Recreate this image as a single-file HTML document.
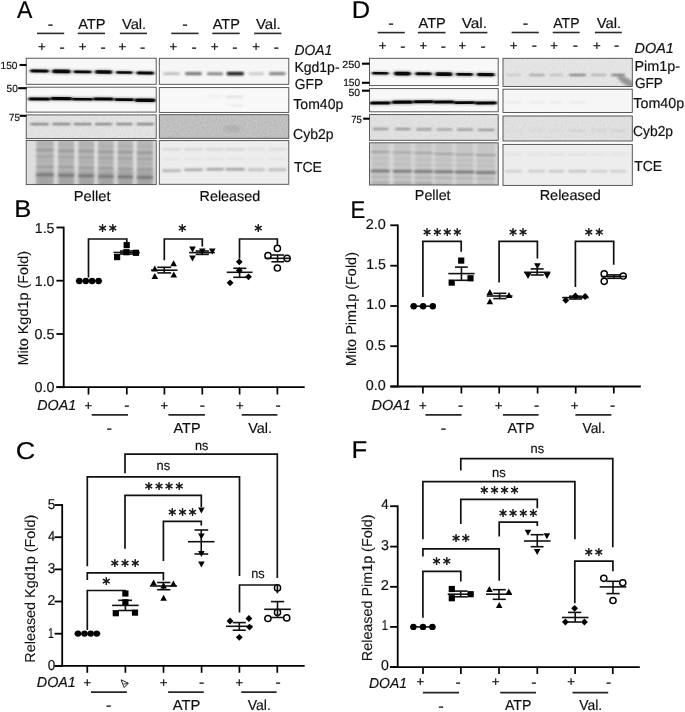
<!DOCTYPE html>
<html><head><meta charset="utf-8"><title>Figure</title>
<style>html,body{margin:0;padding:0;background:#fff}svg{display:block}</style></head><body>
<svg width="685" height="712" viewBox="0 0 685 712" text-rendering="geometricPrecision" font-family="'Liberation Sans', Arial, sans-serif">
<defs>
<filter id="b1" x="-20%" y="-100%" width="140%" height="300%"><feGaussianBlur stdDeviation="0.9 0.7"/></filter>
<filter id="b2" x="-20%" y="-100%" width="140%" height="300%"><feGaussianBlur stdDeviation="1.3 0.9"/></filter>
<filter id="b3" x="-30%" y="-30%" width="160%" height="160%"><feGaussianBlur stdDeviation="2.2 1.2"/></filter>
<filter id="b5" x="-20%" y="-150%" width="140%" height="400%"><feGaussianBlur stdDeviation="1.6 1.15"/></filter>
<filter id="b6" x="-20%" y="-150%" width="140%" height="400%"><feGaussianBlur stdDeviation="1.3 0.85"/></filter>
<filter id="b4" x="-30%" y="-30%" width="160%" height="160%"><feGaussianBlur stdDeviation="5"/></filter>
<filter id="nz" x="0" y="0" width="100%" height="100%"><feTurbulence type="fractalNoise" baseFrequency="0.55" numOctaves="2" seed="3"/><feColorMatrix values="0 0 0 0 0  0 0 0 0 0  0 0 0 0 0  0.9 0 0 0 -0.25"/></filter>
</defs>
<rect width="685" height="712" fill="#fff"/>
<text transform="translate(16.88,18.40) scale(0.944,1)" font-size="24.4" fill="#000" stroke="#000" stroke-width="0.18">A</text>
<text transform="translate(351.77,18.30) scale(1.040,1)" font-size="24.4" fill="#000" stroke="#000" stroke-width="0.18">D</text>
<text transform="translate(14.25,217.30) scale(1.049,1)" font-size="24.4" fill="#000" stroke="#000" stroke-width="0.18">B</text>
<text transform="translate(350.52,217.80) scale(0.910,1)" font-size="24.4" fill="#000" stroke="#000" stroke-width="0.18">E</text>
<text transform="translate(15.65,459.10) scale(1.106,1)" font-size="24.4" fill="#000" stroke="#000" stroke-width="0.18">C</text>
<text transform="translate(351.44,457.90) scale(1.054,1)" font-size="24.4" fill="#000" stroke="#000" stroke-width="0.18">F</text>
<clipPath id="c1"><rect x="26.2" y="58.2" width="130.00" height="26.10"/></clipPath>
<g clip-path="url(#c1)">
<rect x="26.2" y="58.2" width="130.00" height="26.10" fill="#f8f8f8"/>
<rect x="29.70" y="68.75" width="19.60" height="4.50" rx="2" fill="#000" opacity="0.3" filter="url(#b3)"/>
<rect x="30.20" y="69.55" width="18.60" height="2.90" rx="1.45" fill="#000" opacity="0.95" filter="url(#b1)" transform="rotate(1.0 39.50 71.00)"/>
<rect x="51.70" y="68.65" width="19.40" height="5.50" rx="2" fill="#000" opacity="0.3" filter="url(#b3)"/>
<rect x="52.20" y="69.45" width="18.40" height="3.90" rx="1.95" fill="#000" opacity="0.95" filter="url(#b1)" transform="rotate(1.0 61.40 71.40)"/>
<rect x="73.10" y="69.65" width="19.00" height="4.30" rx="2" fill="#000" opacity="0.3" filter="url(#b3)"/>
<rect x="73.60" y="70.45" width="18.00" height="2.70" rx="1.35" fill="#000" opacity="0.95" filter="url(#b1)" transform="rotate(1.0 82.60 71.80)"/>
<rect x="94.50" y="69.45" width="18.20" height="5.10" rx="2" fill="#000" opacity="0.3" filter="url(#b3)"/>
<rect x="95.00" y="70.25" width="17.20" height="3.50" rx="1.75" fill="#000" opacity="0.95" filter="url(#b1)" transform="rotate(1.0 103.60 72.00)"/>
<rect x="115.50" y="70.55" width="17.60" height="3.90" rx="2" fill="#000" opacity="0.3" filter="url(#b3)"/>
<rect x="116.00" y="71.35" width="16.60" height="2.30" rx="1.15" fill="#000" opacity="0.95" filter="url(#b1)" transform="rotate(1.0 124.30 72.50)"/>
<rect x="136.00" y="70.65" width="18.50" height="4.70" rx="2" fill="#000" opacity="0.3" filter="url(#b3)"/>
<rect x="136.50" y="71.45" width="17.50" height="3.10" rx="1.55" fill="#000" opacity="0.95" filter="url(#b1)" transform="rotate(1.0 145.25 73.00)"/>
</g>
<rect x="26.2" y="58.2" width="130.00" height="26.10" fill="none" stroke="#484848" stroke-width="0.9"/>
<clipPath id="c2"><rect x="26.2" y="87.2" width="130.00" height="24.90"/></clipPath>
<g clip-path="url(#c2)">
<rect x="26.2" y="87.2" width="130.00" height="24.90" fill="#f8f8f8"/>
<rect x="27.90" y="96.70" width="22.90" height="4.60" rx="2" fill="#000" opacity="0.3" filter="url(#b3)"/>
<rect x="28.40" y="97.50" width="21.90" height="3.00" rx="1.50" fill="#000" opacity="0.97" filter="url(#b1)" transform="rotate(0.6 39.35 99.00)"/>
<rect x="49.90" y="96.15" width="22.70" height="4.90" rx="2" fill="#000" opacity="0.3" filter="url(#b3)"/>
<rect x="50.40" y="96.95" width="21.70" height="3.30" rx="1.65" fill="#000" opacity="0.97" filter="url(#b1)" transform="rotate(0.6 61.25 98.60)"/>
<rect x="71.30" y="97.10" width="22.30" height="4.20" rx="2" fill="#000" opacity="0.3" filter="url(#b3)"/>
<rect x="71.80" y="97.90" width="21.30" height="2.60" rx="1.30" fill="#000" opacity="0.97" filter="url(#b1)" transform="rotate(0.6 82.45 99.20)"/>
<rect x="92.70" y="96.70" width="21.50" height="4.60" rx="2" fill="#000" opacity="0.3" filter="url(#b3)"/>
<rect x="93.20" y="97.50" width="20.50" height="3.00" rx="1.50" fill="#000" opacity="0.97" filter="url(#b1)" transform="rotate(0.6 103.45 99.00)"/>
<rect x="113.70" y="97.45" width="20.90" height="4.30" rx="2" fill="#000" opacity="0.3" filter="url(#b3)"/>
<rect x="114.20" y="98.25" width="19.90" height="2.70" rx="1.35" fill="#000" opacity="0.97" filter="url(#b1)" transform="rotate(0.6 124.15 99.60)"/>
<rect x="134.20" y="97.65" width="21.80" height="5.10" rx="2" fill="#000" opacity="0.3" filter="url(#b3)"/>
<rect x="134.70" y="98.45" width="20.80" height="3.50" rx="1.75" fill="#000" opacity="0.97" filter="url(#b1)" transform="rotate(0.6 145.10 100.20)"/>
</g>
<rect x="26.2" y="87.2" width="130.00" height="24.90" fill="none" stroke="#484848" stroke-width="0.9"/>
<clipPath id="c3"><rect x="26.2" y="114.9" width="130.00" height="23.70"/></clipPath>
<g clip-path="url(#c3)">
<rect x="26.2" y="114.9" width="130.00" height="23.70" fill="#e6e6e6"/>
<rect x="30.20" y="123.15" width="18.60" height="1.90" rx="0.95" fill="#4a4a4a" opacity="0.8" filter="url(#b2)"/>
<rect x="52.20" y="123.15" width="18.40" height="1.90" rx="0.95" fill="#4a4a4a" opacity="0.8" filter="url(#b2)"/>
<rect x="73.60" y="123.15" width="18.00" height="1.90" rx="0.95" fill="#4a4a4a" opacity="0.8" filter="url(#b2)"/>
<rect x="95.00" y="123.15" width="17.20" height="1.90" rx="0.95" fill="#4a4a4a" opacity="0.8" filter="url(#b2)"/>
<rect x="116.00" y="123.15" width="16.60" height="1.90" rx="0.95" fill="#4a4a4a" opacity="0.8" filter="url(#b2)"/>
<rect x="136.50" y="123.15" width="17.50" height="1.90" rx="0.95" fill="#4a4a4a" opacity="0.8" filter="url(#b2)"/>
<rect x="26.2" y="114.9" width="130.00" height="23.70" filter="url(#nz)" opacity="0.1"/>
</g>
<rect x="26.2" y="114.9" width="130.00" height="23.70" fill="none" stroke="#484848" stroke-width="0.9"/>
<clipPath id="c4"><rect x="26.2" y="140.5" width="130.00" height="44.10"/></clipPath>
<g clip-path="url(#c4)">
<rect x="26.2" y="140.5" width="130.00" height="44.10" fill="#dedede"/>
<rect x="36.4" y="138" width="17.30" height="50" fill="#a8a8a8" opacity="0.74" filter="url(#b2)"/>
<rect x="36.4" y="171" width="17.30" height="17" fill="#777" opacity="0.28" filter="url(#b3)"/>
<rect x="36.10" y="143.55" width="17.90" height="1.30" rx="0.65" fill="#3a3a3a" opacity="0.1" filter="url(#b6)"/>
<rect x="36.10" y="149.50" width="17.90" height="1.60" rx="0.80" fill="#3a3a3a" opacity="0.38" filter="url(#b6)"/>
<rect x="36.10" y="155.75" width="17.90" height="1.50" rx="0.75" fill="#3a3a3a" opacity="0.25" filter="url(#b6)"/>
<rect x="36.10" y="160.15" width="17.90" height="1.30" rx="0.65" fill="#3a3a3a" opacity="0.1" filter="url(#b6)"/>
<rect x="36.10" y="165.90" width="17.90" height="1.60" rx="0.80" fill="#3a3a3a" opacity="0.33" filter="url(#b6)"/>
<rect x="36.10" y="173.80" width="17.90" height="2.20" rx="1.10" fill="#3a3a3a" opacity="0.52" filter="url(#b6)"/>
<rect x="58.2" y="138" width="16.00" height="50" fill="#a8a8a8" opacity="0.74" filter="url(#b2)"/>
<rect x="58.2" y="171" width="16.00" height="17" fill="#777" opacity="0.28" filter="url(#b3)"/>
<rect x="57.90" y="144.05" width="16.60" height="1.30" rx="0.65" fill="#3a3a3a" opacity="0.1" filter="url(#b6)"/>
<rect x="57.90" y="150.00" width="16.60" height="1.60" rx="0.80" fill="#3a3a3a" opacity="0.38" filter="url(#b6)"/>
<rect x="57.90" y="156.25" width="16.60" height="1.50" rx="0.75" fill="#3a3a3a" opacity="0.25" filter="url(#b6)"/>
<rect x="57.90" y="160.65" width="16.60" height="1.30" rx="0.65" fill="#3a3a3a" opacity="0.1" filter="url(#b6)"/>
<rect x="57.90" y="166.40" width="16.60" height="1.60" rx="0.80" fill="#3a3a3a" opacity="0.33" filter="url(#b6)"/>
<rect x="57.90" y="174.30" width="16.60" height="2.20" rx="1.10" fill="#3a3a3a" opacity="0.52" filter="url(#b6)"/>
<rect x="78.3" y="138" width="15.70" height="50" fill="#a8a8a8" opacity="0.74" filter="url(#b2)"/>
<rect x="78.3" y="171" width="15.70" height="17" fill="#777" opacity="0.28" filter="url(#b3)"/>
<rect x="78.00" y="144.55" width="16.30" height="1.30" rx="0.65" fill="#3a3a3a" opacity="0.1" filter="url(#b6)"/>
<rect x="78.00" y="150.50" width="16.30" height="1.60" rx="0.80" fill="#3a3a3a" opacity="0.38" filter="url(#b6)"/>
<rect x="78.00" y="156.75" width="16.30" height="1.50" rx="0.75" fill="#3a3a3a" opacity="0.25" filter="url(#b6)"/>
<rect x="78.00" y="161.15" width="16.30" height="1.30" rx="0.65" fill="#3a3a3a" opacity="0.1" filter="url(#b6)"/>
<rect x="78.00" y="166.90" width="16.30" height="1.60" rx="0.80" fill="#3a3a3a" opacity="0.33" filter="url(#b6)"/>
<rect x="78.00" y="174.80" width="16.30" height="2.20" rx="1.10" fill="#3a3a3a" opacity="0.52" filter="url(#b6)"/>
<rect x="98.1" y="138" width="15.50" height="50" fill="#a8a8a8" opacity="0.74" filter="url(#b2)"/>
<rect x="98.1" y="171" width="15.50" height="17" fill="#777" opacity="0.28" filter="url(#b3)"/>
<rect x="97.80" y="145.05" width="16.10" height="1.30" rx="0.65" fill="#3a3a3a" opacity="0.1" filter="url(#b6)"/>
<rect x="97.80" y="151.00" width="16.10" height="1.60" rx="0.80" fill="#3a3a3a" opacity="0.38" filter="url(#b6)"/>
<rect x="97.80" y="157.25" width="16.10" height="1.50" rx="0.75" fill="#3a3a3a" opacity="0.25" filter="url(#b6)"/>
<rect x="97.80" y="161.65" width="16.10" height="1.30" rx="0.65" fill="#3a3a3a" opacity="0.1" filter="url(#b6)"/>
<rect x="97.80" y="167.40" width="16.10" height="1.60" rx="0.80" fill="#3a3a3a" opacity="0.33" filter="url(#b6)"/>
<rect x="97.80" y="175.30" width="16.10" height="2.20" rx="1.10" fill="#3a3a3a" opacity="0.52" filter="url(#b6)"/>
<rect x="117.7" y="138" width="15.20" height="50" fill="#a8a8a8" opacity="0.74" filter="url(#b2)"/>
<rect x="117.7" y="171" width="15.20" height="17" fill="#777" opacity="0.28" filter="url(#b3)"/>
<rect x="117.40" y="145.55" width="15.80" height="1.30" rx="0.65" fill="#3a3a3a" opacity="0.1" filter="url(#b6)"/>
<rect x="117.40" y="151.50" width="15.80" height="1.60" rx="0.80" fill="#3a3a3a" opacity="0.38" filter="url(#b6)"/>
<rect x="117.40" y="157.75" width="15.80" height="1.50" rx="0.75" fill="#3a3a3a" opacity="0.25" filter="url(#b6)"/>
<rect x="117.40" y="162.15" width="15.80" height="1.30" rx="0.65" fill="#3a3a3a" opacity="0.1" filter="url(#b6)"/>
<rect x="117.40" y="167.90" width="15.80" height="1.60" rx="0.80" fill="#3a3a3a" opacity="0.33" filter="url(#b6)"/>
<rect x="117.40" y="175.80" width="15.80" height="2.20" rx="1.10" fill="#3a3a3a" opacity="0.52" filter="url(#b6)"/>
<rect x="137" y="138" width="15.90" height="50" fill="#a8a8a8" opacity="0.74" filter="url(#b2)"/>
<rect x="137" y="171" width="15.90" height="17" fill="#777" opacity="0.28" filter="url(#b3)"/>
<rect x="136.70" y="146.05" width="16.50" height="1.30" rx="0.65" fill="#3a3a3a" opacity="0.1" filter="url(#b6)"/>
<rect x="136.70" y="152.00" width="16.50" height="1.60" rx="0.80" fill="#3a3a3a" opacity="0.38" filter="url(#b6)"/>
<rect x="136.70" y="158.25" width="16.50" height="1.50" rx="0.75" fill="#3a3a3a" opacity="0.25" filter="url(#b6)"/>
<rect x="136.70" y="162.65" width="16.50" height="1.30" rx="0.65" fill="#3a3a3a" opacity="0.1" filter="url(#b6)"/>
<rect x="136.70" y="168.40" width="16.50" height="1.60" rx="0.80" fill="#3a3a3a" opacity="0.33" filter="url(#b6)"/>
<rect x="136.70" y="176.30" width="16.50" height="2.20" rx="1.10" fill="#3a3a3a" opacity="0.52" filter="url(#b6)"/>
</g>
<rect x="26.2" y="140.5" width="130.00" height="44.10" fill="none" stroke="#484848" stroke-width="0.9"/>
<clipPath id="c5"><rect x="159.3" y="58.3" width="129.50" height="26.00"/></clipPath>
<g clip-path="url(#c5)">
<rect x="159.3" y="58.3" width="129.50" height="26.00" fill="#f6f6f6"/>
<rect x="163.00" y="72.55" width="17.00" height="2.30" rx="1.15" fill="#111" opacity="0.3" filter="url(#b2)"/>
<rect x="185.00" y="72.30" width="17.00" height="2.80" rx="1.40" fill="#111" opacity="0.62" filter="url(#b2)"/>
<rect x="207.00" y="72.40" width="16.00" height="2.60" rx="1.30" fill="#111" opacity="0.58" filter="url(#b2)"/>
<rect x="226.60" y="72.10" width="17.40" height="3.20" rx="1.60" fill="#111" opacity="1.0" filter="url(#b2)"/>
<rect x="248.70" y="72.60" width="15.30" height="2.20" rx="1.10" fill="#111" opacity="0.24" filter="url(#b2)"/>
<rect x="269.00" y="72.30" width="16.60" height="2.80" rx="1.40" fill="#111" opacity="0.55" filter="url(#b2)"/>
</g>
<rect x="159.3" y="58.3" width="129.50" height="26.00" fill="none" stroke="#484848" stroke-width="0.9"/>
<clipPath id="c6"><rect x="159.3" y="87.6" width="129.50" height="24.80"/></clipPath>
<g clip-path="url(#c6)">
<rect x="159.3" y="87.6" width="129.50" height="24.80" fill="#f8f8f8"/>
<rect x="226.00" y="96.20" width="17.00" height="1.60" rx="0.80" fill="#888" opacity="0.3" filter="url(#b2)"/>
<rect x="231.00" y="104.75" width="12.00" height="1.50" rx="0.75" fill="#888" opacity="0.18" filter="url(#b2)"/>
<rect x="207.00" y="95.85" width="15.00" height="1.30" rx="0.65" fill="#999" opacity="0.15" filter="url(#b2)"/>
</g>
<rect x="159.3" y="87.6" width="129.50" height="24.80" fill="none" stroke="#484848" stroke-width="0.9"/>
<clipPath id="c7"><rect x="159.3" y="114.7" width="129.50" height="23.60"/></clipPath>
<g clip-path="url(#c7)">
<rect x="159.3" y="114.7" width="129.50" height="23.60" fill="#c6c6c6"/>
<ellipse cx="232" cy="129" rx="9" ry="4" fill="#999" opacity="0.3" filter="url(#b3)"/>
<rect x="159.3" y="114.7" width="129.50" height="23.60" filter="url(#nz)" opacity="0.16"/>
</g>
<rect x="159.3" y="114.7" width="129.50" height="23.60" fill="none" stroke="#484848" stroke-width="0.9"/>
<clipPath id="c8"><rect x="159.3" y="140.6" width="129.50" height="43.70"/></clipPath>
<g clip-path="url(#c8)">
<rect x="159.3" y="140.6" width="129.50" height="43.70" fill="#ededed"/>
<rect x="162.00" y="148.40" width="19.00" height="1.80" rx="0.90" fill="#888" opacity="0.27999999999999997" filter="url(#b2)"/>
<rect x="162.00" y="169.40" width="19.00" height="2.40" rx="1.20" fill="#666" opacity="0.48" filter="url(#b2)"/>
<rect x="162.00" y="158.20" width="19.00" height="1.60" rx="0.80" fill="#999" opacity="0.12" filter="url(#b2)"/>
<rect x="184.00" y="148.40" width="19.00" height="1.80" rx="0.90" fill="#888" opacity="0.315" filter="url(#b2)"/>
<rect x="184.00" y="168.60" width="19.00" height="2.40" rx="1.20" fill="#666" opacity="0.54" filter="url(#b2)"/>
<rect x="184.00" y="158.20" width="19.00" height="1.60" rx="0.80" fill="#999" opacity="0.135" filter="url(#b2)"/>
<rect x="206.00" y="148.40" width="18.00" height="1.80" rx="0.90" fill="#888" opacity="0.33249999999999996" filter="url(#b2)"/>
<rect x="206.00" y="168.10" width="18.00" height="2.40" rx="1.20" fill="#666" opacity="0.57" filter="url(#b2)"/>
<rect x="206.00" y="158.20" width="18.00" height="1.60" rx="0.80" fill="#999" opacity="0.1425" filter="url(#b2)"/>
<rect x="225.60" y="148.40" width="19.40" height="1.80" rx="0.90" fill="#888" opacity="0.35" filter="url(#b2)"/>
<rect x="225.60" y="168.10" width="19.40" height="2.40" rx="1.20" fill="#666" opacity="0.6" filter="url(#b2)"/>
<rect x="225.60" y="158.20" width="19.40" height="1.60" rx="0.80" fill="#999" opacity="0.15" filter="url(#b2)"/>
<rect x="247.70" y="148.40" width="17.30" height="1.80" rx="0.90" fill="#888" opacity="0.21" filter="url(#b2)"/>
<rect x="247.70" y="168.60" width="17.30" height="2.40" rx="1.20" fill="#666" opacity="0.36" filter="url(#b2)"/>
<rect x="247.70" y="158.20" width="17.30" height="1.60" rx="0.80" fill="#999" opacity="0.09" filter="url(#b2)"/>
<rect x="268.00" y="148.40" width="18.60" height="1.80" rx="0.90" fill="#888" opacity="0.22749999999999998" filter="url(#b2)"/>
<rect x="268.00" y="168.60" width="18.60" height="2.40" rx="1.20" fill="#666" opacity="0.39" filter="url(#b2)"/>
<rect x="268.00" y="158.20" width="18.60" height="1.60" rx="0.80" fill="#999" opacity="0.0975" filter="url(#b2)"/>
</g>
<rect x="159.3" y="140.6" width="129.50" height="43.70" fill="none" stroke="#484848" stroke-width="0.9"/>
<clipPath id="c9"><rect x="369.5" y="58.3" width="128.70" height="27.30"/></clipPath>
<g clip-path="url(#c9)">
<rect x="369.5" y="58.3" width="128.70" height="27.30" fill="#f8f8f8"/>
<rect x="371.50" y="71.20" width="17.50" height="4.20" rx="2" fill="#000" opacity="0.3" filter="url(#b3)"/>
<rect x="372.00" y="72.00" width="16.50" height="2.60" rx="1.30" fill="#000" opacity="0.95" filter="url(#b1)" transform="rotate(0.8 380.25 73.30)"/>
<rect x="393.50" y="70.85" width="17.80" height="5.50" rx="2" fill="#000" opacity="0.3" filter="url(#b3)"/>
<rect x="394.00" y="71.65" width="16.80" height="3.90" rx="1.95" fill="#000" opacity="0.95" filter="url(#b1)" transform="rotate(0.8 402.40 73.60)"/>
<rect x="414.80" y="71.45" width="17.40" height="4.70" rx="2" fill="#000" opacity="0.3" filter="url(#b3)"/>
<rect x="415.30" y="72.25" width="16.40" height="3.10" rx="1.55" fill="#000" opacity="0.95" filter="url(#b1)" transform="rotate(0.8 423.50 73.80)"/>
<rect x="434.90" y="71.55" width="17.90" height="5.30" rx="2" fill="#000" opacity="0.3" filter="url(#b3)"/>
<rect x="435.40" y="72.35" width="16.90" height="3.70" rx="1.85" fill="#000" opacity="0.95" filter="url(#b1)" transform="rotate(0.8 443.85 74.20)"/>
<rect x="455.50" y="72.15" width="18.00" height="4.50" rx="2" fill="#000" opacity="0.3" filter="url(#b3)"/>
<rect x="456.00" y="72.95" width="17.00" height="2.90" rx="1.45" fill="#000" opacity="0.95" filter="url(#b1)" transform="rotate(0.8 464.50 74.40)"/>
<rect x="476.40" y="72.15" width="18.70" height="4.90" rx="2" fill="#000" opacity="0.3" filter="url(#b3)"/>
<rect x="476.90" y="72.95" width="17.70" height="3.30" rx="1.65" fill="#000" opacity="0.95" filter="url(#b1)" transform="rotate(0.8 485.75 74.60)"/>
</g>
<rect x="369.5" y="58.3" width="128.70" height="27.30" fill="none" stroke="#484848" stroke-width="0.9"/>
<clipPath id="c10"><rect x="369.5" y="88.6" width="128.70" height="23.20"/></clipPath>
<g clip-path="url(#c10)">
<rect x="369.5" y="88.6" width="128.70" height="23.20" fill="#f8f8f8"/>
<rect x="369.30" y="100.65" width="21.90" height="4.70" rx="2" fill="#000" opacity="0.3" filter="url(#b3)"/>
<rect x="369.80" y="101.45" width="20.90" height="3.10" rx="1.55" fill="#000" opacity="0.97" filter="url(#b1)" transform="rotate(-0.5 380.25 103.00)"/>
<rect x="391.30" y="99.75" width="22.20" height="4.90" rx="2" fill="#000" opacity="0.3" filter="url(#b3)"/>
<rect x="391.80" y="100.55" width="21.20" height="3.30" rx="1.65" fill="#000" opacity="0.97" filter="url(#b1)" transform="rotate(-0.5 402.40 102.20)"/>
<rect x="412.60" y="99.55" width="21.80" height="4.50" rx="2" fill="#000" opacity="0.3" filter="url(#b3)"/>
<rect x="413.10" y="100.35" width="20.80" height="2.90" rx="1.45" fill="#000" opacity="0.97" filter="url(#b1)" transform="rotate(-0.5 423.50 101.80)"/>
<rect x="432.70" y="99.65" width="22.30" height="4.70" rx="2" fill="#000" opacity="0.3" filter="url(#b3)"/>
<rect x="433.20" y="100.45" width="21.30" height="3.10" rx="1.55" fill="#000" opacity="0.97" filter="url(#b1)" transform="rotate(-0.5 443.85 102.00)"/>
<rect x="453.30" y="100.45" width="22.40" height="4.30" rx="2" fill="#000" opacity="0.3" filter="url(#b3)"/>
<rect x="453.80" y="101.25" width="21.40" height="2.70" rx="1.35" fill="#000" opacity="0.97" filter="url(#b1)" transform="rotate(-0.5 464.50 102.60)"/>
<rect x="474.20" y="100.75" width="23.10" height="4.50" rx="2" fill="#000" opacity="0.3" filter="url(#b3)"/>
<rect x="474.70" y="101.55" width="22.10" height="2.90" rx="1.45" fill="#000" opacity="0.97" filter="url(#b1)" transform="rotate(-0.5 485.75 103.00)"/>
</g>
<rect x="369.5" y="88.6" width="128.70" height="23.20" fill="none" stroke="#484848" stroke-width="0.9"/>
<clipPath id="c11"><rect x="369.5" y="114.6" width="128.70" height="25.70"/></clipPath>
<g clip-path="url(#c11)">
<rect x="369.5" y="114.6" width="128.70" height="25.70" fill="#e3e3e3"/>
<rect x="373.00" y="128.05" width="15.50" height="1.70" rx="0.85" fill="#444" opacity="0.6" filter="url(#b2)"/>
<rect x="395.00" y="128.25" width="15.80" height="1.70" rx="0.85" fill="#444" opacity="0.6" filter="url(#b2)"/>
<rect x="416.30" y="128.45" width="15.40" height="1.70" rx="0.85" fill="#444" opacity="0.6" filter="url(#b2)"/>
<rect x="436.40" y="128.65" width="15.90" height="1.70" rx="0.85" fill="#444" opacity="0.6" filter="url(#b2)"/>
<rect x="457.00" y="128.85" width="16.00" height="1.70" rx="0.85" fill="#444" opacity="0.6" filter="url(#b2)"/>
<rect x="477.90" y="129.05" width="16.70" height="1.70" rx="0.85" fill="#444" opacity="0.6" filter="url(#b2)"/>
<rect x="369.5" y="114.6" width="128.70" height="25.70" filter="url(#nz)" opacity="0.08"/>
</g>
<rect x="369.5" y="114.6" width="128.70" height="25.70" fill="none" stroke="#484848" stroke-width="0.9"/>
<clipPath id="c12"><rect x="369.5" y="142.8" width="128.70" height="42.20"/></clipPath>
<g clip-path="url(#c12)">
<rect x="369.5" y="142.8" width="128.70" height="42.20" fill="#d6d6d6"/>
<rect x="372" y="142" width="16.50" height="45" fill="#aaa" opacity="0.35" filter="url(#b2)"/>
<rect x="370.50" y="151.20" width="19.50" height="1.20" rx="0.60" fill="#333" opacity="0.4" filter="url(#b2)"/>
<rect x="370.50" y="157.90" width="19.50" height="1.20" rx="0.60" fill="#333" opacity="0.1" filter="url(#b2)"/>
<rect x="370.50" y="163.40" width="19.50" height="1.20" rx="0.60" fill="#333" opacity="0.1" filter="url(#b2)"/>
<rect x="370.50" y="169.65" width="19.50" height="2.50" rx="1.25" fill="#333" opacity="0.58" filter="url(#b2)"/>
<rect x="370.50" y="176.20" width="19.50" height="1.60" rx="0.80" fill="#333" opacity="0.18" filter="url(#b2)"/>
<rect x="370.50" y="182.05" width="19.50" height="1.50" rx="0.75" fill="#333" opacity="0.3" filter="url(#b2)"/>
<rect x="394" y="142" width="16.80" height="45" fill="#aaa" opacity="0.35" filter="url(#b2)"/>
<rect x="392.50" y="151.88" width="19.80" height="1.20" rx="0.60" fill="#333" opacity="0.4" filter="url(#b2)"/>
<rect x="392.50" y="158.40" width="19.80" height="1.20" rx="0.60" fill="#333" opacity="0.1" filter="url(#b2)"/>
<rect x="392.50" y="163.80" width="19.80" height="1.20" rx="0.60" fill="#333" opacity="0.1" filter="url(#b2)"/>
<rect x="392.50" y="169.95" width="19.80" height="2.50" rx="1.25" fill="#333" opacity="0.58" filter="url(#b2)"/>
<rect x="392.50" y="176.50" width="19.80" height="1.60" rx="0.80" fill="#333" opacity="0.18" filter="url(#b2)"/>
<rect x="392.50" y="182.25" width="19.80" height="1.50" rx="0.75" fill="#333" opacity="0.3" filter="url(#b2)"/>
<rect x="415.3" y="142" width="16.40" height="45" fill="#aaa" opacity="0.35" filter="url(#b2)"/>
<rect x="413.80" y="152.56" width="19.40" height="1.20" rx="0.60" fill="#333" opacity="0.4" filter="url(#b2)"/>
<rect x="413.80" y="158.90" width="19.40" height="1.20" rx="0.60" fill="#333" opacity="0.1" filter="url(#b2)"/>
<rect x="413.80" y="164.20" width="19.40" height="1.20" rx="0.60" fill="#333" opacity="0.1" filter="url(#b2)"/>
<rect x="413.80" y="170.25" width="19.40" height="2.50" rx="1.25" fill="#333" opacity="0.58" filter="url(#b2)"/>
<rect x="413.80" y="176.80" width="19.40" height="1.60" rx="0.80" fill="#333" opacity="0.18" filter="url(#b2)"/>
<rect x="413.80" y="182.45" width="19.40" height="1.50" rx="0.75" fill="#333" opacity="0.3" filter="url(#b2)"/>
<rect x="435.4" y="142" width="16.90" height="45" fill="#aaa" opacity="0.35" filter="url(#b2)"/>
<rect x="433.90" y="153.24" width="19.90" height="1.20" rx="0.60" fill="#333" opacity="0.4" filter="url(#b2)"/>
<rect x="433.90" y="159.40" width="19.90" height="1.20" rx="0.60" fill="#333" opacity="0.1" filter="url(#b2)"/>
<rect x="433.90" y="164.60" width="19.90" height="1.20" rx="0.60" fill="#333" opacity="0.1" filter="url(#b2)"/>
<rect x="433.90" y="170.55" width="19.90" height="2.50" rx="1.25" fill="#333" opacity="0.58" filter="url(#b2)"/>
<rect x="433.90" y="177.10" width="19.90" height="1.60" rx="0.80" fill="#333" opacity="0.18" filter="url(#b2)"/>
<rect x="433.90" y="182.65" width="19.90" height="1.50" rx="0.75" fill="#333" opacity="0.1" filter="url(#b2)"/>
<rect x="456" y="142" width="17.00" height="45" fill="#aaa" opacity="0.35" filter="url(#b2)"/>
<rect x="454.50" y="153.92" width="20.00" height="1.20" rx="0.60" fill="#333" opacity="0.4" filter="url(#b2)"/>
<rect x="454.50" y="159.90" width="20.00" height="1.20" rx="0.60" fill="#333" opacity="0.1" filter="url(#b2)"/>
<rect x="454.50" y="165.00" width="20.00" height="1.20" rx="0.60" fill="#333" opacity="0.1" filter="url(#b2)"/>
<rect x="454.50" y="170.85" width="20.00" height="2.50" rx="1.25" fill="#333" opacity="0.58" filter="url(#b2)"/>
<rect x="454.50" y="177.40" width="20.00" height="1.60" rx="0.80" fill="#333" opacity="0.18" filter="url(#b2)"/>
<rect x="454.50" y="182.85" width="20.00" height="1.50" rx="0.75" fill="#333" opacity="0.1" filter="url(#b2)"/>
<rect x="476.9" y="142" width="17.70" height="45" fill="#aaa" opacity="0.35" filter="url(#b2)"/>
<rect x="475.40" y="154.60" width="20.70" height="1.20" rx="0.60" fill="#333" opacity="0.4" filter="url(#b2)"/>
<rect x="475.40" y="160.40" width="20.70" height="1.20" rx="0.60" fill="#333" opacity="0.1" filter="url(#b2)"/>
<rect x="475.40" y="165.40" width="20.70" height="1.20" rx="0.60" fill="#333" opacity="0.1" filter="url(#b2)"/>
<rect x="475.40" y="171.15" width="20.70" height="2.50" rx="1.25" fill="#333" opacity="0.58" filter="url(#b2)"/>
<rect x="475.40" y="177.70" width="20.70" height="1.60" rx="0.80" fill="#333" opacity="0.18" filter="url(#b2)"/>
<rect x="475.40" y="183.05" width="20.70" height="1.50" rx="0.75" fill="#333" opacity="0.1" filter="url(#b2)"/>
</g>
<rect x="369.5" y="142.8" width="128.70" height="42.20" fill="none" stroke="#484848" stroke-width="0.9"/>
<clipPath id="c13"><rect x="503.0" y="58.3" width="129.30" height="28.20"/></clipPath>
<g clip-path="url(#c13)">
<rect x="503.0" y="58.3" width="129.30" height="28.20" fill="#e7e7e7"/>
<rect x="506.00" y="73.90" width="15.00" height="2.20" rx="1.10" fill="#333" opacity="0.15" filter="url(#b2)"/>
<rect x="529.00" y="73.90" width="15.50" height="2.20" rx="1.10" fill="#333" opacity="0.38" filter="url(#b2)"/>
<rect x="549.50" y="73.90" width="13.50" height="2.20" rx="1.10" fill="#333" opacity="0.22" filter="url(#b2)"/>
<rect x="569.00" y="73.90" width="17.00" height="2.20" rx="1.10" fill="#333" opacity="0.62" filter="url(#b2)"/>
<rect x="591.00" y="73.90" width="15.50" height="2.20" rx="1.10" fill="#333" opacity="0.3" filter="url(#b2)"/>
<rect x="611.00" y="73.90" width="14.00" height="2.20" rx="1.10" fill="#333" opacity="0.6" filter="url(#b2)"/>
<ellipse cx="626" cy="82" rx="10" ry="3.6" fill="#555" opacity="0.55" filter="url(#b3)" transform="rotate(32 627 82.5)"/>
<rect x="503.0" y="58.3" width="129.30" height="28.20" filter="url(#nz)" opacity="0.08"/>
</g>
<rect x="503.0" y="58.3" width="129.30" height="28.20" fill="none" stroke="#484848" stroke-width="0.9"/>
<clipPath id="c14"><rect x="503.0" y="89.2" width="129.30" height="23.30"/></clipPath>
<g clip-path="url(#c14)">
<rect x="503.0" y="89.2" width="129.30" height="23.30" fill="#f6f6f6"/>
<rect x="506.00" y="101.80" width="15.00" height="1.40" rx="0.70" fill="#999" opacity="0.2" filter="url(#b2)"/>
<rect x="529.00" y="101.80" width="15.50" height="1.40" rx="0.70" fill="#999" opacity="0.2" filter="url(#b2)"/>
<rect x="549.50" y="101.80" width="13.50" height="1.40" rx="0.70" fill="#999" opacity="0.2" filter="url(#b2)"/>
<rect x="569.00" y="101.80" width="17.00" height="1.40" rx="0.70" fill="#999" opacity="0.2" filter="url(#b2)"/>
</g>
<rect x="503.0" y="89.2" width="129.30" height="23.30" fill="none" stroke="#484848" stroke-width="0.9"/>
<clipPath id="c15"><rect x="503.0" y="116.0" width="129.30" height="25.00"/></clipPath>
<g clip-path="url(#c15)">
<rect x="503.0" y="116.0" width="129.30" height="25.00" fill="#e3e3e3"/>
<rect x="506.00" y="129.80" width="15.00" height="1.60" rx="0.80" fill="#777" opacity="0.05" filter="url(#b2)"/>
<rect x="529.00" y="129.80" width="15.50" height="1.60" rx="0.80" fill="#777" opacity="0.1" filter="url(#b2)"/>
<rect x="549.50" y="129.80" width="13.50" height="1.60" rx="0.80" fill="#777" opacity="0.1" filter="url(#b2)"/>
<rect x="569.00" y="129.80" width="17.00" height="1.60" rx="0.80" fill="#777" opacity="0.16" filter="url(#b2)"/>
<rect x="591.00" y="129.80" width="15.50" height="1.60" rx="0.80" fill="#777" opacity="0.16" filter="url(#b2)"/>
<rect x="611.00" y="129.80" width="14.00" height="1.60" rx="0.80" fill="#777" opacity="0.2" filter="url(#b2)"/>
<rect x="503.0" y="116.0" width="129.30" height="25.00" filter="url(#nz)" opacity="0.08"/>
</g>
<rect x="503.0" y="116.0" width="129.30" height="25.00" fill="none" stroke="#484848" stroke-width="0.9"/>
<clipPath id="c16"><rect x="503.0" y="144.4" width="129.30" height="41.00"/></clipPath>
<g clip-path="url(#c16)">
<rect x="503.0" y="144.4" width="129.30" height="41.00" fill="#ededed"/>
<rect x="505.00" y="153.70" width="17.00" height="1.60" rx="0.80" fill="#999" opacity="0.175" filter="url(#b2)"/>
<rect x="505.00" y="170.20" width="17.00" height="2.00" rx="1.00" fill="#777" opacity="0.315" filter="url(#b2)"/>
<rect x="528.00" y="153.70" width="17.50" height="1.60" rx="0.80" fill="#999" opacity="0.2" filter="url(#b2)"/>
<rect x="528.00" y="170.20" width="17.50" height="2.00" rx="1.00" fill="#777" opacity="0.36000000000000004" filter="url(#b2)"/>
<rect x="548.50" y="153.70" width="15.50" height="1.60" rx="0.80" fill="#999" opacity="0.2375" filter="url(#b2)"/>
<rect x="548.50" y="170.20" width="15.50" height="2.00" rx="1.00" fill="#777" opacity="0.4275" filter="url(#b2)"/>
<rect x="568.00" y="153.70" width="19.00" height="1.60" rx="0.80" fill="#999" opacity="0.25" filter="url(#b2)"/>
<rect x="568.00" y="170.20" width="19.00" height="2.00" rx="1.00" fill="#777" opacity="0.45" filter="url(#b2)"/>
<rect x="590.00" y="153.70" width="17.50" height="1.60" rx="0.80" fill="#999" opacity="0.175" filter="url(#b2)"/>
<rect x="590.00" y="170.20" width="17.50" height="2.00" rx="1.00" fill="#777" opacity="0.315" filter="url(#b2)"/>
<rect x="610.00" y="153.70" width="16.00" height="1.60" rx="0.80" fill="#999" opacity="0.1875" filter="url(#b2)"/>
<rect x="610.00" y="170.20" width="16.00" height="2.00" rx="1.00" fill="#777" opacity="0.3375" filter="url(#b2)"/>
</g>
<rect x="503.0" y="144.4" width="129.30" height="41.00" fill="none" stroke="#484848" stroke-width="0.9"/>
<text transform="translate(0.54,68.60) scale(0.983,1)" font-size="10.3" fill="#111" stroke="#111" stroke-width="0.18">150</text>
<line x1="19.60" y1="65.00" x2="26.40" y2="65.00" stroke="#000" stroke-width="2.1"/>
<text transform="translate(6.60,91.90) scale(0.980,1)" font-size="10.3" fill="#111" stroke="#111" stroke-width="0.18">50</text>
<line x1="18.20" y1="88.20" x2="26.40" y2="88.20" stroke="#000" stroke-width="2.1"/>
<text transform="translate(9.01,121.10) scale(0.942,1)" font-size="10.3" fill="#111" stroke="#111" stroke-width="0.18">75</text>
<line x1="19.60" y1="115.80" x2="26.40" y2="115.80" stroke="#000" stroke-width="2.1"/>
<text transform="translate(342.16,67.80) scale(1.048,1)" font-size="10.3" fill="#111" stroke="#111" stroke-width="0.18">250</text>
<line x1="362.00" y1="63.70" x2="369.50" y2="63.70" stroke="#000" stroke-width="2.1"/>
<text transform="translate(343.14,86.30) scale(0.990,1)" font-size="10.3" fill="#111" stroke="#111" stroke-width="0.18">150</text>
<line x1="362.00" y1="82.80" x2="369.50" y2="82.80" stroke="#000" stroke-width="2.1"/>
<text transform="translate(348.48,95.90) scale(1.018,1)" font-size="10.3" fill="#111" stroke="#111" stroke-width="0.18">50</text>
<line x1="362.00" y1="90.70" x2="369.50" y2="90.70" stroke="#000" stroke-width="2.1"/>
<text transform="translate(351.32,123.00) scale(0.923,1)" font-size="10.3" fill="#111" stroke="#111" stroke-width="0.18">75</text>
<line x1="363.20" y1="118.70" x2="369.50" y2="118.70" stroke="#000" stroke-width="2.1"/>
<text transform="translate(47.66,28.83) scale(1.145,1)" font-size="14.4" fill="#111" stroke="#111" stroke-width="0.25">-</text>
<text transform="translate(78.13,29.30) scale(1.018,1)" font-size="14.4" fill="#111" stroke="#111" stroke-width="0.18">ATP</text>
<text transform="translate(121.93,29.30) scale(1.022,1)" font-size="14.4" fill="#111" stroke="#111" stroke-width="0.18">Val.</text>
<line x1="37.00" y1="33.40" x2="64.20" y2="33.40" stroke="#2a2a2a" stroke-width="1.6"/>
<line x1="77.80" y1="33.40" x2="105.00" y2="33.40" stroke="#2a2a2a" stroke-width="1.6"/>
<line x1="119.90" y1="33.40" x2="147.00" y2="33.40" stroke="#2a2a2a" stroke-width="1.6"/>
<text transform="translate(38.04,51.39) scale(1.000,1)" font-size="13.2" fill="#111" stroke="#111" stroke-width="0.25">+</text>
<text transform="translate(59.49,51.63) scale(1.088,1)" font-size="14.4" fill="#111" stroke="#111" stroke-width="0.25">-</text>
<text transform="translate(78.74,51.39) scale(1.000,1)" font-size="13.2" fill="#111" stroke="#111" stroke-width="0.25">+</text>
<text transform="translate(100.59,51.63) scale(1.088,1)" font-size="14.4" fill="#111" stroke="#111" stroke-width="0.25">-</text>
<text transform="translate(118.44,51.39) scale(1.000,1)" font-size="13.2" fill="#111" stroke="#111" stroke-width="0.25">+</text>
<text transform="translate(139.89,51.63) scale(1.088,1)" font-size="14.4" fill="#111" stroke="#111" stroke-width="0.25">-</text>
<text transform="translate(182.26,28.83) scale(1.145,1)" font-size="14.4" fill="#111" stroke="#111" stroke-width="0.25">-</text>
<text transform="translate(212.73,29.30) scale(1.010,1)" font-size="14.4" fill="#111" stroke="#111" stroke-width="0.18">ATP</text>
<text transform="translate(255.92,29.30) scale(1.048,1)" font-size="14.4" fill="#111" stroke="#111" stroke-width="0.18">Val.</text>
<line x1="171.30" y1="33.40" x2="198.50" y2="33.40" stroke="#2a2a2a" stroke-width="1.6"/>
<line x1="212.30" y1="33.40" x2="239.70" y2="33.40" stroke="#2a2a2a" stroke-width="1.6"/>
<line x1="254.20" y1="33.40" x2="281.40" y2="33.40" stroke="#2a2a2a" stroke-width="1.6"/>
<text transform="translate(169.54,51.39) scale(1.000,1)" font-size="13.2" fill="#111" stroke="#111" stroke-width="0.25">+</text>
<text transform="translate(191.39,51.63) scale(1.088,1)" font-size="14.4" fill="#111" stroke="#111" stroke-width="0.25">-</text>
<text transform="translate(210.64,51.39) scale(1.000,1)" font-size="13.2" fill="#111" stroke="#111" stroke-width="0.25">+</text>
<text transform="translate(232.29,51.63) scale(1.088,1)" font-size="14.4" fill="#111" stroke="#111" stroke-width="0.25">-</text>
<text transform="translate(252.14,51.39) scale(1.000,1)" font-size="13.2" fill="#111" stroke="#111" stroke-width="0.25">+</text>
<text transform="translate(273.69,51.63) scale(1.088,1)" font-size="14.4" fill="#111" stroke="#111" stroke-width="0.25">-</text>
<text transform="translate(388.26,28.23) scale(1.145,1)" font-size="14.4" fill="#111" stroke="#111" stroke-width="0.25">-</text>
<text transform="translate(418.53,28.10) scale(1.010,1)" font-size="14.4" fill="#111" stroke="#111" stroke-width="0.18">ATP</text>
<text transform="translate(461.72,28.10) scale(1.066,1)" font-size="14.4" fill="#111" stroke="#111" stroke-width="0.18">Val.</text>
<line x1="377.70" y1="32.60" x2="404.80" y2="32.60" stroke="#2a2a2a" stroke-width="1.6"/>
<line x1="417.80" y1="32.60" x2="445.50" y2="32.60" stroke="#2a2a2a" stroke-width="1.6"/>
<line x1="460.00" y1="32.60" x2="487.40" y2="32.60" stroke="#2a2a2a" stroke-width="1.6"/>
<text transform="translate(378.84,50.39) scale(1.000,1)" font-size="13.2" fill="#111" stroke="#111" stroke-width="0.25">+</text>
<text transform="translate(400.19,50.63) scale(1.088,1)" font-size="14.4" fill="#111" stroke="#111" stroke-width="0.25">-</text>
<text transform="translate(419.54,50.39) scale(1.000,1)" font-size="13.2" fill="#111" stroke="#111" stroke-width="0.25">+</text>
<text transform="translate(440.79,50.63) scale(1.088,1)" font-size="14.4" fill="#111" stroke="#111" stroke-width="0.25">-</text>
<text transform="translate(458.44,50.39) scale(1.000,1)" font-size="13.2" fill="#111" stroke="#111" stroke-width="0.25">+</text>
<text transform="translate(480.49,50.63) scale(1.088,1)" font-size="14.4" fill="#111" stroke="#111" stroke-width="0.25">-</text>
<text transform="translate(522.76,27.83) scale(1.145,1)" font-size="14.4" fill="#111" stroke="#111" stroke-width="0.25">-</text>
<text transform="translate(553.23,28.10) scale(0.976,1)" font-size="14.4" fill="#111" stroke="#111" stroke-width="0.18">ATP</text>
<text transform="translate(596.73,28.10) scale(1.030,1)" font-size="14.4" fill="#111" stroke="#111" stroke-width="0.18">Val.</text>
<line x1="511.60" y1="32.50" x2="538.80" y2="32.50" stroke="#2a2a2a" stroke-width="1.6"/>
<line x1="552.70" y1="32.50" x2="579.60" y2="32.50" stroke="#2a2a2a" stroke-width="1.6"/>
<line x1="594.90" y1="32.50" x2="621.80" y2="32.50" stroke="#2a2a2a" stroke-width="1.6"/>
<text transform="translate(509.74,49.79) scale(1.000,1)" font-size="13.2" fill="#111" stroke="#111" stroke-width="0.25">+</text>
<text transform="translate(531.79,50.03) scale(1.088,1)" font-size="14.4" fill="#111" stroke="#111" stroke-width="0.25">-</text>
<text transform="translate(550.14,49.79) scale(1.000,1)" font-size="13.2" fill="#111" stroke="#111" stroke-width="0.25">+</text>
<text transform="translate(572.79,50.03) scale(1.088,1)" font-size="14.4" fill="#111" stroke="#111" stroke-width="0.25">-</text>
<text transform="translate(592.94,49.79) scale(1.000,1)" font-size="13.2" fill="#111" stroke="#111" stroke-width="0.25">+</text>
<text transform="translate(613.89,50.03) scale(1.088,1)" font-size="14.4" fill="#111" stroke="#111" stroke-width="0.25">-</text>
<text transform="translate(294.48,55.00) scale(0.962,1)" font-size="14.4" font-style="italic" fill="#111" stroke="#111" stroke-width="0.18">DOA1</text>
<text transform="translate(294.38,72.30) scale(0.974,1)" font-size="14.4" fill="#111" stroke="#111" stroke-width="0.18">Kgd1p-</text>
<text transform="translate(294.81,89.00) scale(0.956,1)" font-size="14.4" fill="#111" stroke="#111" stroke-width="0.18">GFP</text>
<text transform="translate(293.35,108.50) scale(0.975,1)" font-size="14.4" fill="#111" stroke="#111" stroke-width="0.18">Tom40p</text>
<text transform="translate(293.00,138.60) scale(0.975,1)" font-size="14.4" fill="#111" stroke="#111" stroke-width="0.18">Cyb2p</text>
<text transform="translate(293.95,172.40) scale(0.969,1)" font-size="14.4" fill="#111" stroke="#111" stroke-width="0.18">TCE</text>
<text transform="translate(73.82,201.30) scale(1.021,1)" font-size="14.4" fill="#111" stroke="#111" stroke-width="0.18">Pellet</text>
<text transform="translate(199.55,200.90) scale(0.997,1)" font-size="14.4" fill="#111" stroke="#111" stroke-width="0.18">Released</text>
<text transform="translate(634.57,53.00) scale(1.000,1)" font-size="14.4" font-style="italic" fill="#111" stroke="#111" stroke-width="0.18">DOA1</text>
<text transform="translate(634.45,71.00) scale(1.001,1)" font-size="14.4" fill="#111" stroke="#111" stroke-width="0.18">Pim1p-</text>
<text transform="translate(634.92,87.70) scale(0.948,1)" font-size="14.4" fill="#111" stroke="#111" stroke-width="0.18">GFP</text>
<text transform="translate(633.34,108.00) scale(0.993,1)" font-size="14.4" fill="#111" stroke="#111" stroke-width="0.18">Tom40p</text>
<text transform="translate(633.01,136.30) scale(0.962,1)" font-size="14.4" fill="#111" stroke="#111" stroke-width="0.18">Cyb2p</text>
<text transform="translate(634.15,171.00) scale(0.965,1)" font-size="14.4" fill="#111" stroke="#111" stroke-width="0.18">TCE</text>
<text transform="translate(414.86,199.60) scale(0.992,1)" font-size="14.4" fill="#111" stroke="#111" stroke-width="0.18">Pellet</text>
<text transform="translate(539.64,200.10) scale(1.006,1)" font-size="14.4" fill="#111" stroke="#111" stroke-width="0.18">Released</text>
<line x1="63.70" y1="226.65" x2="63.70" y2="388.10" stroke="#000" stroke-width="1.8"/>
<line x1="56.40" y1="387.20" x2="304.70" y2="387.20" stroke="#000" stroke-width="1.8"/>
<line x1="56.40" y1="227.50" x2="63.70" y2="227.50" stroke="#000" stroke-width="1.8"/>
<text transform="translate(34.84,232.60) scale(0.987,1)" font-size="14.3" fill="#111" stroke="#111" stroke-width="0.18">1.5</text>
<line x1="56.40" y1="280.70" x2="63.70" y2="280.70" stroke="#000" stroke-width="1.8"/>
<text transform="translate(34.84,285.80) scale(0.987,1)" font-size="14.3" fill="#111" stroke="#111" stroke-width="0.18">1.0</text>
<line x1="56.40" y1="334.00" x2="63.70" y2="334.00" stroke="#000" stroke-width="1.8"/>
<text transform="translate(34.53,339.10) scale(1.004,1)" font-size="14.3" fill="#111" stroke="#111" stroke-width="0.18">0.5</text>
<line x1="56.40" y1="387.20" x2="63.70" y2="387.20" stroke="#000" stroke-width="1.8"/>
<text transform="translate(34.53,392.30) scale(1.004,1)" font-size="14.3" fill="#111" stroke="#111" stroke-width="0.18">0.0</text>
<line x1="88.50" y1="387.20" x2="88.50" y2="394.50" stroke="#000" stroke-width="1.7"/>
<line x1="126.80" y1="387.20" x2="126.80" y2="394.50" stroke="#000" stroke-width="1.7"/>
<line x1="164.40" y1="387.20" x2="164.40" y2="394.50" stroke="#000" stroke-width="1.7"/>
<line x1="202.30" y1="387.20" x2="202.30" y2="394.50" stroke="#000" stroke-width="1.7"/>
<line x1="239.60" y1="387.20" x2="239.60" y2="394.50" stroke="#000" stroke-width="1.7"/>
<line x1="277.40" y1="387.20" x2="277.40" y2="394.50" stroke="#000" stroke-width="1.7"/>
<line x1="75.80" y1="281.00" x2="102.10" y2="281.00" stroke="#111" stroke-width="1.6"/>
<circle cx="79.30" cy="281.00" r="3.2" fill="#000"/>
<circle cx="85.80" cy="281.00" r="3.2" fill="#000"/>
<circle cx="92.10" cy="281.00" r="3.2" fill="#000"/>
<circle cx="98.60" cy="281.00" r="3.2" fill="#000"/>
<line x1="113.50" y1="252.50" x2="139.80" y2="252.50" stroke="#111" stroke-width="1.6"/>
<line x1="120.00" y1="251.00" x2="133.40" y2="251.00" stroke="#111" stroke-width="1.6"/>
<line x1="120.00" y1="254.00" x2="133.40" y2="254.00" stroke="#111" stroke-width="1.6"/>
<line x1="126.65" y1="251.00" x2="126.65" y2="254.00" stroke="#111" stroke-width="1.6"/>
<rect x="123.60" y="242.00" width="6.2" height="6.2" fill="#000"/>
<rect x="114.00" y="254.00" width="6.2" height="6.2" fill="#000"/>
<rect x="123.30" y="249.10" width="6.2" height="6.2" fill="#000"/>
<rect x="132.90" y="249.70" width="6.2" height="6.2" fill="#000"/>
<line x1="151.00" y1="270.20" x2="177.50" y2="270.20" stroke="#111" stroke-width="1.6"/>
<line x1="157.30" y1="267.30" x2="171.20" y2="267.30" stroke="#111" stroke-width="1.6"/>
<line x1="157.30" y1="272.90" x2="171.20" y2="272.90" stroke="#111" stroke-width="1.6"/>
<line x1="164.25" y1="267.30" x2="164.25" y2="272.90" stroke="#111" stroke-width="1.6"/>
<path d="M151.50 271.60L158.10 271.60L154.80 265.60Z" fill="#000"/>
<path d="M151.50 279.00L158.10 279.00L154.80 273.00Z" fill="#000"/>
<path d="M170.30 266.20L176.90 266.20L173.60 260.20Z" fill="#000"/>
<path d="M170.50 277.50L177.10 277.50L173.80 271.50Z" fill="#000"/>
<line x1="189.10" y1="252.60" x2="214.90" y2="252.60" stroke="#111" stroke-width="1.6"/>
<line x1="195.70" y1="251.00" x2="208.90" y2="251.00" stroke="#111" stroke-width="1.6"/>
<line x1="195.70" y1="254.40" x2="208.90" y2="254.40" stroke="#111" stroke-width="1.6"/>
<line x1="202.00" y1="251.00" x2="202.00" y2="254.40" stroke="#111" stroke-width="1.6"/>
<path d="M189.20 246.40L195.80 246.40L192.50 252.40Z" fill="#000"/>
<path d="M199.00 248.40L205.60 248.40L202.30 254.40Z" fill="#000"/>
<path d="M189.20 255.40L195.80 255.40L192.50 261.40Z" fill="#000"/>
<path d="M209.00 248.50L215.60 248.50L212.30 254.50Z" fill="#000"/>
<line x1="226.70" y1="272.30" x2="252.50" y2="272.30" stroke="#111" stroke-width="1.6"/>
<line x1="233.30" y1="268.30" x2="246.40" y2="268.30" stroke="#111" stroke-width="1.6"/>
<line x1="233.30" y1="277.30" x2="246.40" y2="277.30" stroke="#111" stroke-width="1.6"/>
<line x1="239.60" y1="268.30" x2="239.60" y2="277.30" stroke="#111" stroke-width="1.6"/>
<path d="M235.90 261.80L239.30 258.40L242.70 261.80L239.30 265.20Z" fill="#000"/>
<path d="M235.90 270.40L239.30 267.00L242.70 270.40L239.30 273.80Z" fill="#000"/>
<path d="M245.10 276.80L248.50 273.40L251.90 276.80L248.50 280.20Z" fill="#000"/>
<path d="M226.70 282.80L230.10 279.40L233.50 282.80L230.10 286.20Z" fill="#000"/>
<circle cx="277.40" cy="248.40" r="3.1" fill="#fff" stroke="#000" stroke-width="1.45"/>
<circle cx="268.00" cy="255.70" r="3.1" fill="#fff" stroke="#000" stroke-width="1.45"/>
<circle cx="287.10" cy="258.40" r="3.1" fill="#fff" stroke="#000" stroke-width="1.45"/>
<circle cx="277.40" cy="268.00" r="3.1" fill="#fff" stroke="#000" stroke-width="1.45"/>
<line x1="264.80" y1="258.30" x2="290.30" y2="258.30" stroke="#111" stroke-width="1.6"/>
<line x1="271.40" y1="255.00" x2="284.00" y2="255.00" stroke="#111" stroke-width="1.6"/>
<line x1="271.40" y1="261.80" x2="284.00" y2="261.80" stroke="#111" stroke-width="1.6"/>
<line x1="277.55" y1="255.00" x2="277.55" y2="261.80" stroke="#111" stroke-width="1.6"/>
<path d="M88.50 277.40V239.00H126.80V242.50" fill="none" stroke="#111" stroke-width="1.7" stroke-linejoin="miter"/>
<path d="M164.30 260.20V239.00H202.30V246.50" fill="none" stroke="#111" stroke-width="1.7" stroke-linejoin="miter"/>
<path d="M239.50 258.80V239.00H277.40V244.80" fill="none" stroke="#111" stroke-width="1.7" stroke-linejoin="miter"/>
<text transform="translate(102.60,236.48) scale(0.985,1)" text-anchor="middle" font-size="15.4" font-family="'DejaVu Sans', sans-serif" fill="#111" stroke="#111" stroke-width="0.6">*</text>
<text transform="translate(112.70,236.48) scale(0.985,1)" text-anchor="middle" font-size="15.4" font-family="'DejaVu Sans', sans-serif" fill="#111" stroke="#111" stroke-width="0.6">*</text>
<text transform="translate(182.40,236.48) scale(0.985,1)" text-anchor="middle" font-size="15.4" font-family="'DejaVu Sans', sans-serif" fill="#111" stroke="#111" stroke-width="0.6">*</text>
<text transform="translate(258.40,236.48) scale(0.985,1)" text-anchor="middle" font-size="15.4" font-family="'DejaVu Sans', sans-serif" fill="#111" stroke="#111" stroke-width="0.6">*</text>
<text transform="translate(37.27,410.20) scale(0.992,1)" font-size="14.4" font-style="italic" fill="#111" stroke="#111" stroke-width="0.18">DOA1</text>
<text transform="translate(84.54,409.79) scale(1.000,1)" font-size="13.2" fill="#111" stroke="#111" stroke-width="0.25">+</text>
<text transform="translate(124.19,410.13) scale(1.088,1)" font-size="14.4" fill="#111" stroke="#111" stroke-width="0.25">-</text>
<text transform="translate(160.54,409.79) scale(1.000,1)" font-size="13.2" fill="#111" stroke="#111" stroke-width="0.25">+</text>
<text transform="translate(199.69,410.13) scale(1.088,1)" font-size="14.4" fill="#111" stroke="#111" stroke-width="0.25">-</text>
<text transform="translate(235.94,409.79) scale(1.000,1)" font-size="13.2" fill="#111" stroke="#111" stroke-width="0.25">+</text>
<text transform="translate(275.39,410.13) scale(1.088,1)" font-size="14.4" fill="#111" stroke="#111" stroke-width="0.25">-</text>
<line x1="91.70" y1="414.80" x2="128.00" y2="414.80" stroke="#262626" stroke-width="1.7"/>
<line x1="168.40" y1="414.80" x2="204.90" y2="414.80" stroke="#262626" stroke-width="1.7"/>
<line x1="241.70" y1="414.80" x2="277.40" y2="414.80" stroke="#262626" stroke-width="1.7"/>
<text transform="translate(106.46,432.93) scale(1.145,1)" font-size="14.4" fill="#111" stroke="#111" stroke-width="0.25">-</text>
<text transform="translate(173.53,433.30) scale(1.006,1)" font-size="14.4" fill="#111" stroke="#111" stroke-width="0.18">ATP</text>
<text transform="translate(248.13,433.30) scale(1.004,1)" font-size="14.4" fill="#111" stroke="#111" stroke-width="0.18">Val.</text>
<text transform="translate(28.10,365.45) rotate(-90) scale(1.001,1)" font-size="14.4" fill="#111" stroke="#111" stroke-width="0.1">Mito Kgd1p (Fold)</text>
<line x1="397.80" y1="224.45" x2="397.80" y2="387.40" stroke="#000" stroke-width="1.8"/>
<line x1="390.30" y1="386.50" x2="640.80" y2="386.50" stroke="#000" stroke-width="1.8"/>
<line x1="390.30" y1="225.30" x2="397.80" y2="225.30" stroke="#000" stroke-width="1.8"/>
<text transform="translate(365.68,228.70) scale(1.011,1)" font-size="14.3" fill="#111" stroke="#111" stroke-width="0.18">2.0</text>
<line x1="390.30" y1="265.70" x2="397.80" y2="265.70" stroke="#000" stroke-width="1.8"/>
<text transform="translate(366.14,269.10) scale(0.987,1)" font-size="14.3" fill="#111" stroke="#111" stroke-width="0.18">1.5</text>
<line x1="390.30" y1="306.00" x2="397.80" y2="306.00" stroke="#000" stroke-width="1.8"/>
<text transform="translate(366.14,309.40) scale(0.987,1)" font-size="14.3" fill="#111" stroke="#111" stroke-width="0.18">1.0</text>
<line x1="390.30" y1="346.20" x2="397.80" y2="346.20" stroke="#000" stroke-width="1.8"/>
<text transform="translate(365.83,349.60) scale(1.004,1)" font-size="14.3" fill="#111" stroke="#111" stroke-width="0.18">0.5</text>
<line x1="390.30" y1="386.50" x2="397.80" y2="386.50" stroke="#000" stroke-width="1.8"/>
<text transform="translate(365.83,389.90) scale(1.004,1)" font-size="14.3" fill="#111" stroke="#111" stroke-width="0.18">0.0</text>
<line x1="422.90" y1="386.50" x2="422.90" y2="393.50" stroke="#000" stroke-width="1.7"/>
<line x1="461.40" y1="386.50" x2="461.40" y2="393.50" stroke="#000" stroke-width="1.7"/>
<line x1="499.20" y1="386.50" x2="499.20" y2="393.50" stroke="#000" stroke-width="1.7"/>
<line x1="537.60" y1="386.50" x2="537.60" y2="393.50" stroke="#000" stroke-width="1.7"/>
<line x1="575.70" y1="386.50" x2="575.70" y2="393.50" stroke="#000" stroke-width="1.7"/>
<line x1="613.80" y1="386.50" x2="613.80" y2="393.50" stroke="#000" stroke-width="1.7"/>
<line x1="410.50" y1="306.20" x2="436.00" y2="306.20" stroke="#111" stroke-width="1.6"/>
<circle cx="413.70" cy="306.20" r="3.2" fill="#000"/>
<circle cx="423.10" cy="306.20" r="3.2" fill="#000"/>
<circle cx="432.80" cy="306.20" r="3.2" fill="#000"/>
<line x1="448.30" y1="273.60" x2="474.60" y2="273.60" stroke="#111" stroke-width="1.6"/>
<line x1="455.00" y1="267.10" x2="467.80" y2="267.10" stroke="#111" stroke-width="1.6"/>
<line x1="455.00" y1="280.30" x2="467.80" y2="280.30" stroke="#111" stroke-width="1.6"/>
<line x1="461.45" y1="267.10" x2="461.45" y2="280.30" stroke="#111" stroke-width="1.6"/>
<rect x="458.10" y="257.50" width="6.2" height="6.2" fill="#000"/>
<rect x="448.60" y="279.50" width="6.2" height="6.2" fill="#000"/>
<rect x="467.40" y="275.20" width="6.2" height="6.2" fill="#000"/>
<line x1="486.70" y1="296.00" x2="512.50" y2="296.00" stroke="#111" stroke-width="1.6"/>
<line x1="493.30" y1="293.30" x2="506.40" y2="293.30" stroke="#111" stroke-width="1.6"/>
<line x1="493.30" y1="298.60" x2="506.40" y2="298.60" stroke="#111" stroke-width="1.6"/>
<line x1="499.60" y1="293.30" x2="499.60" y2="298.60" stroke="#111" stroke-width="1.6"/>
<path d="M486.60 295.00L493.20 295.00L489.90 289.00Z" fill="#000"/>
<path d="M486.60 304.20L493.20 304.20L489.90 298.20Z" fill="#000"/>
<path d="M505.70 298.10L512.30 298.10L509.00 292.10Z" fill="#000"/>
<line x1="524.00" y1="272.30" x2="550.30" y2="272.30" stroke="#111" stroke-width="1.6"/>
<line x1="530.60" y1="268.90" x2="543.70" y2="268.90" stroke="#111" stroke-width="1.6"/>
<line x1="530.60" y1="275.00" x2="543.70" y2="275.00" stroke="#111" stroke-width="1.6"/>
<line x1="537.15" y1="268.90" x2="537.15" y2="275.00" stroke="#111" stroke-width="1.6"/>
<path d="M534.10 263.20L540.70 263.20L537.40 269.20Z" fill="#000"/>
<path d="M524.70 273.00L531.30 273.00L528.00 279.00Z" fill="#000"/>
<path d="M543.80 273.00L550.40 273.00L547.10 279.00Z" fill="#000"/>
<line x1="562.20" y1="297.60" x2="588.70" y2="297.60" stroke="#111" stroke-width="1.6"/>
<line x1="569.00" y1="296.20" x2="582.00" y2="296.20" stroke="#111" stroke-width="1.6"/>
<line x1="569.00" y1="299.00" x2="582.00" y2="299.00" stroke="#111" stroke-width="1.6"/>
<line x1="575.45" y1="296.20" x2="575.45" y2="299.00" stroke="#111" stroke-width="1.6"/>
<path d="M562.40 300.30L565.80 296.90L569.20 300.30L565.80 303.70Z" fill="#000"/>
<path d="M572.00 295.90L575.40 292.50L578.80 295.90L575.40 299.30Z" fill="#000"/>
<path d="M581.70 296.50L585.10 293.10L588.50 296.50L585.10 299.90Z" fill="#000"/>
<circle cx="604.20" cy="273.90" r="3.1" fill="#fff" stroke="#000" stroke-width="1.45"/>
<circle cx="604.20" cy="281.30" r="3.1" fill="#fff" stroke="#000" stroke-width="1.45"/>
<circle cx="623.20" cy="276.00" r="3.1" fill="#fff" stroke="#000" stroke-width="1.45"/>
<line x1="601.40" y1="276.50" x2="626.40" y2="276.50" stroke="#111" stroke-width="1.6"/>
<line x1="607.20" y1="274.90" x2="620.30" y2="274.90" stroke="#111" stroke-width="1.6"/>
<line x1="607.20" y1="278.30" x2="620.30" y2="278.30" stroke="#111" stroke-width="1.6"/>
<line x1="613.90" y1="274.90" x2="613.90" y2="278.30" stroke="#111" stroke-width="1.6"/>
<path d="M422.90 297.00V241.30H461.20V251.70" fill="none" stroke="#111" stroke-width="1.7" stroke-linejoin="miter"/>
<path d="M499.10 282.50V241.30H537.40V258.40" fill="none" stroke="#111" stroke-width="1.7" stroke-linejoin="miter"/>
<path d="M575.40 287.00V241.30H613.70V264.80" fill="none" stroke="#111" stroke-width="1.7" stroke-linejoin="miter"/>
<text transform="translate(427.10,239.58) scale(0.985,1)" text-anchor="middle" font-size="15.4" font-family="'DejaVu Sans', sans-serif" fill="#111" stroke="#111" stroke-width="0.6">*</text>
<text transform="translate(437.20,239.58) scale(0.985,1)" text-anchor="middle" font-size="15.4" font-family="'DejaVu Sans', sans-serif" fill="#111" stroke="#111" stroke-width="0.6">*</text>
<text transform="translate(447.20,239.58) scale(0.985,1)" text-anchor="middle" font-size="15.4" font-family="'DejaVu Sans', sans-serif" fill="#111" stroke="#111" stroke-width="0.6">*</text>
<text transform="translate(457.30,239.58) scale(0.985,1)" text-anchor="middle" font-size="15.4" font-family="'DejaVu Sans', sans-serif" fill="#111" stroke="#111" stroke-width="0.6">*</text>
<text transform="translate(513.10,239.58) scale(0.985,1)" text-anchor="middle" font-size="15.4" font-family="'DejaVu Sans', sans-serif" fill="#111" stroke="#111" stroke-width="0.6">*</text>
<text transform="translate(523.10,239.58) scale(0.985,1)" text-anchor="middle" font-size="15.4" font-family="'DejaVu Sans', sans-serif" fill="#111" stroke="#111" stroke-width="0.6">*</text>
<text transform="translate(588.90,239.58) scale(0.985,1)" text-anchor="middle" font-size="15.4" font-family="'DejaVu Sans', sans-serif" fill="#111" stroke="#111" stroke-width="0.6">*</text>
<text transform="translate(599.30,239.58) scale(0.985,1)" text-anchor="middle" font-size="15.4" font-family="'DejaVu Sans', sans-serif" fill="#111" stroke="#111" stroke-width="0.6">*</text>
<text transform="translate(371.47,410.20) scale(1.005,1)" font-size="14.4" font-style="italic" fill="#111" stroke="#111" stroke-width="0.18">DOA1</text>
<text transform="translate(419.04,409.79) scale(1.000,1)" font-size="13.2" fill="#111" stroke="#111" stroke-width="0.25">+</text>
<text transform="translate(457.99,410.13) scale(1.088,1)" font-size="14.4" fill="#111" stroke="#111" stroke-width="0.25">-</text>
<text transform="translate(494.74,409.79) scale(1.000,1)" font-size="13.2" fill="#111" stroke="#111" stroke-width="0.25">+</text>
<text transform="translate(533.89,410.13) scale(1.088,1)" font-size="14.4" fill="#111" stroke="#111" stroke-width="0.25">-</text>
<text transform="translate(570.74,409.79) scale(1.000,1)" font-size="13.2" fill="#111" stroke="#111" stroke-width="0.25">+</text>
<text transform="translate(610.09,410.13) scale(1.088,1)" font-size="14.4" fill="#111" stroke="#111" stroke-width="0.25">-</text>
<line x1="425.40" y1="414.80" x2="461.60" y2="414.80" stroke="#262626" stroke-width="1.7"/>
<line x1="502.90" y1="414.80" x2="538.60" y2="414.80" stroke="#262626" stroke-width="1.7"/>
<line x1="575.40" y1="414.80" x2="611.40" y2="414.80" stroke="#262626" stroke-width="1.7"/>
<text transform="translate(440.76,432.93) scale(1.145,1)" font-size="14.4" fill="#111" stroke="#111" stroke-width="0.25">-</text>
<text transform="translate(507.53,433.30) scale(1.006,1)" font-size="14.4" fill="#111" stroke="#111" stroke-width="0.18">ATP</text>
<text transform="translate(582.43,433.30) scale(0.963,1)" font-size="14.4" fill="#111" stroke="#111" stroke-width="0.18">Val.</text>
<text transform="translate(356.00,366.16) rotate(-90) scale(1.005,1)" font-size="14.4" fill="#111" stroke="#111" stroke-width="0.1">Mito Pim1p (Fold)</text>
<line x1="62.20" y1="504.15" x2="62.20" y2="666.80" stroke="#000" stroke-width="1.8"/>
<line x1="54.60" y1="665.90" x2="304.70" y2="665.90" stroke="#000" stroke-width="1.8"/>
<line x1="54.60" y1="505.00" x2="62.20" y2="505.00" stroke="#000" stroke-width="1.8"/>
<text transform="translate(47.66,508.90) scale(0.942,1)" font-size="14.3" fill="#111" stroke="#111" stroke-width="0.18">5</text>
<line x1="54.60" y1="537.20" x2="62.20" y2="537.20" stroke="#000" stroke-width="1.8"/>
<text transform="translate(47.88,541.10) scale(0.895,1)" font-size="14.3" fill="#111" stroke="#111" stroke-width="0.18">4</text>
<line x1="54.60" y1="569.40" x2="62.20" y2="569.40" stroke="#000" stroke-width="1.8"/>
<text transform="translate(47.66,573.30) scale(0.952,1)" font-size="14.3" fill="#111" stroke="#111" stroke-width="0.18">3</text>
<line x1="54.60" y1="601.50" x2="62.20" y2="601.50" stroke="#000" stroke-width="1.8"/>
<text transform="translate(47.50,605.40) scale(0.984,1)" font-size="14.3" fill="#111" stroke="#111" stroke-width="0.18">2</text>
<line x1="54.60" y1="633.70" x2="62.20" y2="633.70" stroke="#000" stroke-width="1.8"/>
<text transform="translate(48.12,637.60) scale(0.732,1)" font-size="14.3" fill="#111" stroke="#111" stroke-width="0.18">1</text>
<line x1="54.60" y1="665.90" x2="62.20" y2="665.90" stroke="#000" stroke-width="1.8"/>
<text transform="translate(47.66,669.80) scale(0.942,1)" font-size="14.3" fill="#111" stroke="#111" stroke-width="0.18">0</text>
<line x1="87.30" y1="665.90" x2="87.30" y2="672.80" stroke="#000" stroke-width="1.7"/>
<line x1="125.40" y1="665.90" x2="125.40" y2="672.80" stroke="#000" stroke-width="1.7"/>
<line x1="163.50" y1="665.90" x2="163.50" y2="672.80" stroke="#000" stroke-width="1.7"/>
<line x1="201.60" y1="665.90" x2="201.60" y2="672.80" stroke="#000" stroke-width="1.7"/>
<line x1="239.40" y1="665.90" x2="239.40" y2="672.80" stroke="#000" stroke-width="1.7"/>
<line x1="277.30" y1="665.90" x2="277.30" y2="672.80" stroke="#000" stroke-width="1.7"/>
<line x1="74.50" y1="633.60" x2="100.40" y2="633.60" stroke="#111" stroke-width="1.6"/>
<circle cx="78.00" cy="633.60" r="3.2" fill="#000"/>
<circle cx="84.50" cy="633.60" r="3.2" fill="#000"/>
<circle cx="90.70" cy="633.60" r="3.2" fill="#000"/>
<circle cx="96.80" cy="633.60" r="3.2" fill="#000"/>
<line x1="112.10" y1="605.40" x2="138.70" y2="605.40" stroke="#111" stroke-width="1.6"/>
<line x1="118.20" y1="600.30" x2="132.00" y2="600.30" stroke="#111" stroke-width="1.6"/>
<line x1="118.20" y1="610.50" x2="132.00" y2="610.50" stroke="#111" stroke-width="1.6"/>
<line x1="125.40" y1="600.30" x2="125.40" y2="610.50" stroke="#111" stroke-width="1.6"/>
<rect x="122.30" y="590.40" width="6.2" height="6.2" fill="#000"/>
<rect x="122.30" y="599.20" width="6.2" height="6.2" fill="#000"/>
<rect x="112.70" y="610.10" width="6.2" height="6.2" fill="#000"/>
<rect x="131.90" y="609.50" width="6.2" height="6.2" fill="#000"/>
<line x1="149.90" y1="586.00" x2="176.90" y2="586.00" stroke="#111" stroke-width="1.6"/>
<line x1="157.10" y1="582.50" x2="170.40" y2="582.50" stroke="#111" stroke-width="1.6"/>
<line x1="157.10" y1="589.70" x2="170.40" y2="589.70" stroke="#111" stroke-width="1.6"/>
<line x1="163.40" y1="582.50" x2="163.40" y2="589.70" stroke="#111" stroke-width="1.6"/>
<path d="M150.30 585.50L156.90 585.50L153.60 579.50Z" fill="#000"/>
<path d="M170.10 586.50L176.70 586.50L173.40 580.50Z" fill="#000"/>
<path d="M160.30 588.40L166.90 588.40L163.60 582.40Z" fill="#000"/>
<path d="M160.30 600.80L166.90 600.80L163.60 594.80Z" fill="#000"/>
<line x1="188.00" y1="541.70" x2="214.50" y2="541.70" stroke="#111" stroke-width="1.6"/>
<line x1="194.50" y1="530.00" x2="208.20" y2="530.00" stroke="#111" stroke-width="1.6"/>
<line x1="194.50" y1="554.00" x2="208.20" y2="554.00" stroke="#111" stroke-width="1.6"/>
<line x1="201.25" y1="530.00" x2="201.25" y2="554.00" stroke="#111" stroke-width="1.6"/>
<path d="M198.10 507.40L204.70 507.40L201.40 513.40Z" fill="#000"/>
<path d="M198.10 533.50L204.70 533.50L201.40 539.50Z" fill="#000"/>
<path d="M198.10 551.00L204.70 551.00L201.40 557.00Z" fill="#000"/>
<path d="M198.10 561.40L204.70 561.40L201.40 567.40Z" fill="#000"/>
<line x1="226.00" y1="626.30" x2="252.60" y2="626.30" stroke="#111" stroke-width="1.6"/>
<line x1="232.70" y1="622.60" x2="245.80" y2="622.60" stroke="#111" stroke-width="1.6"/>
<line x1="232.70" y1="630.20" x2="245.80" y2="630.20" stroke="#111" stroke-width="1.6"/>
<line x1="239.30" y1="622.60" x2="239.30" y2="630.20" stroke="#111" stroke-width="1.6"/>
<path d="M226.60 621.00L230.00 617.60L233.40 621.00L230.00 624.40Z" fill="#000"/>
<path d="M245.50 618.50L248.90 615.10L252.30 618.50L248.90 621.90Z" fill="#000"/>
<path d="M246.10 627.10L249.50 623.70L252.90 627.10L249.50 630.50Z" fill="#000"/>
<path d="M235.90 637.30L239.30 633.90L242.70 637.30L239.30 640.70Z" fill="#000"/>
<circle cx="277.50" cy="587.90" r="3.1" fill="#fff" stroke="#000" stroke-width="1.45"/>
<circle cx="277.50" cy="612.40" r="3.1" fill="#fff" stroke="#000" stroke-width="1.45"/>
<circle cx="267.90" cy="618.50" r="3.1" fill="#fff" stroke="#000" stroke-width="1.45"/>
<circle cx="286.70" cy="617.90" r="3.1" fill="#fff" stroke="#000" stroke-width="1.45"/>
<line x1="264.20" y1="609.30" x2="290.80" y2="609.30" stroke="#111" stroke-width="1.6"/>
<line x1="271.00" y1="601.60" x2="284.20" y2="601.60" stroke="#111" stroke-width="1.6"/>
<line x1="271.00" y1="617.50" x2="284.20" y2="617.50" stroke="#111" stroke-width="1.6"/>
<line x1="277.50" y1="601.60" x2="277.50" y2="617.50" stroke="#111" stroke-width="1.6"/>
<path d="M125.00 473.20V454.10H277.30V578.00" fill="none" stroke="#111" stroke-width="1.7" stroke-linejoin="miter"/>
<path d="M87.30 566.30V476.80H239.50V576.00" fill="none" stroke="#111" stroke-width="1.7" stroke-linejoin="miter"/>
<path d="M125.00 548.80V495.30H201.30V507.00" fill="none" stroke="#111" stroke-width="1.7" stroke-linejoin="miter"/>
<path d="M163.40 561.00V521.40H201.30V525.60" fill="none" stroke="#111" stroke-width="1.7" stroke-linejoin="miter"/>
<path d="M87.30 580.00V572.90H163.40V580.50" fill="none" stroke="#111" stroke-width="1.7" stroke-linejoin="miter"/>
<path d="M87.30 630.00V590.50H125.20V591.50" fill="none" stroke="#111" stroke-width="1.7" stroke-linejoin="miter"/>
<path d="M239.50 612.40V585.00H277.40V593.20" fill="none" stroke="#111" stroke-width="1.7" stroke-linejoin="miter"/>
<text transform="translate(194.98,449.80) scale(0.946,1)" font-size="13.4" fill="#111" stroke="#111" stroke-width="0.18">ns</text>
<text transform="translate(156.56,469.60) scale(0.961,1)" font-size="13.4" fill="#111" stroke="#111" stroke-width="0.18">ns</text>
<text transform="translate(251.17,577.80) scale(0.953,1)" font-size="13.4" fill="#111" stroke="#111" stroke-width="0.18">ns</text>
<text transform="translate(148.90,494.08) scale(0.985,1)" text-anchor="middle" font-size="15.4" font-family="'DejaVu Sans', sans-serif" fill="#111" stroke="#111" stroke-width="0.6">*</text>
<text transform="translate(159.00,494.08) scale(0.985,1)" text-anchor="middle" font-size="15.4" font-family="'DejaVu Sans', sans-serif" fill="#111" stroke="#111" stroke-width="0.6">*</text>
<text transform="translate(169.10,494.08) scale(0.985,1)" text-anchor="middle" font-size="15.4" font-family="'DejaVu Sans', sans-serif" fill="#111" stroke="#111" stroke-width="0.6">*</text>
<text transform="translate(179.20,494.08) scale(0.985,1)" text-anchor="middle" font-size="15.4" font-family="'DejaVu Sans', sans-serif" fill="#111" stroke="#111" stroke-width="0.6">*</text>
<text transform="translate(172.40,520.18) scale(0.985,1)" text-anchor="middle" font-size="15.4" font-family="'DejaVu Sans', sans-serif" fill="#111" stroke="#111" stroke-width="0.6">*</text>
<text transform="translate(182.50,520.18) scale(0.985,1)" text-anchor="middle" font-size="15.4" font-family="'DejaVu Sans', sans-serif" fill="#111" stroke="#111" stroke-width="0.6">*</text>
<text transform="translate(192.60,520.18) scale(0.985,1)" text-anchor="middle" font-size="15.4" font-family="'DejaVu Sans', sans-serif" fill="#111" stroke="#111" stroke-width="0.6">*</text>
<text transform="translate(114.80,570.88) scale(0.985,1)" text-anchor="middle" font-size="15.4" font-family="'DejaVu Sans', sans-serif" fill="#111" stroke="#111" stroke-width="0.6">*</text>
<text transform="translate(125.00,570.88) scale(0.985,1)" text-anchor="middle" font-size="15.4" font-family="'DejaVu Sans', sans-serif" fill="#111" stroke="#111" stroke-width="0.6">*</text>
<text transform="translate(135.30,570.88) scale(0.985,1)" text-anchor="middle" font-size="15.4" font-family="'DejaVu Sans', sans-serif" fill="#111" stroke="#111" stroke-width="0.6">*</text>
<text transform="translate(106.20,588.88) scale(0.985,1)" text-anchor="middle" font-size="15.4" font-family="'DejaVu Sans', sans-serif" fill="#111" stroke="#111" stroke-width="0.6">*</text>
<text transform="translate(36.77,687.00) scale(0.997,1)" font-size="14.4" font-style="italic" fill="#111" stroke="#111" stroke-width="0.18">DOA1</text>
<text transform="translate(83.54,686.79) scale(1.000,1)" font-size="13.2" fill="#111" stroke="#111" stroke-width="0.25">+</text>
<text transform="translate(159.74,686.59) scale(1.000,1)" font-size="13.2" fill="#111" stroke="#111" stroke-width="0.25">+</text>
<text transform="translate(199.09,686.83) scale(1.088,1)" font-size="14.4" fill="#111" stroke="#111" stroke-width="0.25">-</text>
<text transform="translate(235.44,686.59) scale(1.000,1)" font-size="13.2" fill="#111" stroke="#111" stroke-width="0.25">+</text>
<text transform="translate(275.39,686.83) scale(1.088,1)" font-size="14.4" fill="#111" stroke="#111" stroke-width="0.25">-</text>
<path d="M121.0 679.8L128.4 683.2L124.2 687.6Z" fill="#fff" stroke="#2a2a2a" stroke-width="1" stroke-linejoin="round"/><path d="M123.6 684.2L128.0 683.3" stroke="#333" stroke-width="1" fill="none"/>
<line x1="91.00" y1="692.10" x2="126.90" y2="692.10" stroke="#262626" stroke-width="1.7"/>
<line x1="168.10" y1="692.10" x2="203.80" y2="692.10" stroke="#262626" stroke-width="1.7"/>
<line x1="241.20" y1="692.10" x2="276.60" y2="692.10" stroke="#262626" stroke-width="1.7"/>
<text transform="translate(106.06,710.23) scale(1.145,1)" font-size="14.4" fill="#111" stroke="#111" stroke-width="0.25">-</text>
<text transform="translate(172.73,709.50) scale(1.025,1)" font-size="14.4" fill="#111" stroke="#111" stroke-width="0.18">ATP</text>
<text transform="translate(247.63,709.50) scale(0.977,1)" font-size="14.4" fill="#111" stroke="#111" stroke-width="0.18">Val.</text>
<text transform="translate(34.60,662.65) rotate(-90) scale(0.999,1)" font-size="14.4" fill="#111" stroke="#111" stroke-width="0.1">Released Kgd1p (Fold)</text>
<line x1="397.70" y1="505.35" x2="397.70" y2="668.00" stroke="#000" stroke-width="1.8"/>
<line x1="390.10" y1="667.10" x2="639.80" y2="667.10" stroke="#000" stroke-width="1.8"/>
<line x1="390.10" y1="506.20" x2="397.70" y2="506.20" stroke="#000" stroke-width="1.8"/>
<text transform="translate(381.17,509.40) scale(0.937,1)" font-size="14.3" fill="#111" stroke="#111" stroke-width="0.18">4</text>
<line x1="390.10" y1="546.60" x2="397.70" y2="546.60" stroke="#000" stroke-width="1.8"/>
<text transform="translate(380.93,549.80) scale(0.997,1)" font-size="14.3" fill="#111" stroke="#111" stroke-width="0.18">3</text>
<line x1="390.10" y1="586.80" x2="397.70" y2="586.80" stroke="#000" stroke-width="1.8"/>
<text transform="translate(380.76,590.00) scale(1.030,1)" font-size="14.3" fill="#111" stroke="#111" stroke-width="0.18">2</text>
<line x1="390.10" y1="626.90" x2="397.70" y2="626.90" stroke="#000" stroke-width="1.8"/>
<text transform="translate(381.76,630.10) scale(0.781,1)" font-size="14.3" fill="#111" stroke="#111" stroke-width="0.18">1</text>
<line x1="390.10" y1="667.10" x2="397.70" y2="667.10" stroke="#000" stroke-width="1.8"/>
<text transform="translate(380.94,670.30) scale(0.986,1)" font-size="14.3" fill="#111" stroke="#111" stroke-width="0.18">0</text>
<line x1="423.00" y1="667.10" x2="423.00" y2="674.00" stroke="#000" stroke-width="1.7"/>
<line x1="460.90" y1="667.10" x2="460.90" y2="674.00" stroke="#000" stroke-width="1.7"/>
<line x1="499.00" y1="667.10" x2="499.00" y2="674.00" stroke="#000" stroke-width="1.7"/>
<line x1="537.30" y1="667.10" x2="537.30" y2="674.00" stroke="#000" stroke-width="1.7"/>
<line x1="575.10" y1="667.10" x2="575.10" y2="674.00" stroke="#000" stroke-width="1.7"/>
<line x1="612.80" y1="667.10" x2="612.80" y2="674.00" stroke="#000" stroke-width="1.7"/>
<line x1="410.30" y1="626.90" x2="435.50" y2="626.90" stroke="#111" stroke-width="1.6"/>
<circle cx="413.40" cy="626.90" r="3.2" fill="#000"/>
<circle cx="423.00" cy="626.90" r="3.2" fill="#000"/>
<circle cx="432.40" cy="626.90" r="3.2" fill="#000"/>
<line x1="447.70" y1="594.20" x2="473.70" y2="594.20" stroke="#111" stroke-width="1.6"/>
<line x1="454.30" y1="591.10" x2="467.60" y2="591.10" stroke="#111" stroke-width="1.6"/>
<line x1="454.30" y1="596.80" x2="467.60" y2="596.80" stroke="#111" stroke-width="1.6"/>
<line x1="460.70" y1="591.10" x2="460.70" y2="596.80" stroke="#111" stroke-width="1.6"/>
<rect x="448.70" y="585.90" width="6.2" height="6.2" fill="#000"/>
<rect x="448.70" y="595.10" width="6.2" height="6.2" fill="#000"/>
<rect x="467.50" y="591.10" width="6.2" height="6.2" fill="#000"/>
<line x1="486.00" y1="594.20" x2="511.90" y2="594.20" stroke="#111" stroke-width="1.6"/>
<line x1="492.70" y1="589.70" x2="505.80" y2="589.70" stroke="#111" stroke-width="1.6"/>
<line x1="492.70" y1="599.30" x2="505.80" y2="599.30" stroke="#111" stroke-width="1.6"/>
<line x1="498.95" y1="589.70" x2="498.95" y2="599.30" stroke="#111" stroke-width="1.6"/>
<path d="M486.10 592.00L492.70 592.00L489.40 586.00Z" fill="#000"/>
<path d="M505.50 594.50L512.10 594.50L508.80 588.50Z" fill="#000"/>
<path d="M495.90 608.00L502.50 608.00L499.20 602.00Z" fill="#000"/>
<line x1="524.00" y1="541.00" x2="550.50" y2="541.00" stroke="#111" stroke-width="1.6"/>
<line x1="530.70" y1="534.70" x2="543.60" y2="534.70" stroke="#111" stroke-width="1.6"/>
<line x1="530.70" y1="546.70" x2="543.60" y2="546.70" stroke="#111" stroke-width="1.6"/>
<line x1="537.25" y1="534.70" x2="537.25" y2="546.70" stroke="#111" stroke-width="1.6"/>
<path d="M524.70 529.80L531.30 529.80L528.00 535.80Z" fill="#000"/>
<path d="M543.60 533.20L550.20 533.20L546.90 539.20Z" fill="#000"/>
<path d="M533.90 549.10L540.50 549.10L537.20 555.10Z" fill="#000"/>
<line x1="561.90" y1="617.50" x2="588.50" y2="617.50" stroke="#111" stroke-width="1.6"/>
<line x1="568.00" y1="612.40" x2="581.30" y2="612.40" stroke="#111" stroke-width="1.6"/>
<line x1="568.00" y1="622.00" x2="581.30" y2="622.00" stroke="#111" stroke-width="1.6"/>
<line x1="575.20" y1="612.40" x2="575.20" y2="622.00" stroke="#111" stroke-width="1.6"/>
<path d="M571.20 608.30L574.60 604.90L578.00 608.30L574.60 611.70Z" fill="#000"/>
<path d="M562.00 622.00L565.40 618.60L568.80 622.00L565.40 625.40Z" fill="#000"/>
<path d="M581.00 622.00L584.40 618.60L587.80 622.00L584.40 625.40Z" fill="#000"/>
<circle cx="603.80" cy="578.30" r="3.1" fill="#fff" stroke="#000" stroke-width="1.45"/>
<circle cx="622.80" cy="582.80" r="3.1" fill="#fff" stroke="#000" stroke-width="1.45"/>
<circle cx="613.00" cy="600.50" r="3.1" fill="#fff" stroke="#000" stroke-width="1.45"/>
<line x1="599.70" y1="586.90" x2="626.30" y2="586.90" stroke="#111" stroke-width="1.6"/>
<line x1="606.40" y1="581.30" x2="619.70" y2="581.30" stroke="#111" stroke-width="1.6"/>
<line x1="606.40" y1="593.60" x2="619.70" y2="593.60" stroke="#111" stroke-width="1.6"/>
<line x1="613.00" y1="581.30" x2="613.00" y2="593.60" stroke="#111" stroke-width="1.6"/>
<path d="M460.80 470.50V458.70H612.80V547.20" fill="none" stroke="#111" stroke-width="1.7" stroke-linejoin="miter"/>
<path d="M422.90 539.20V481.70H574.90V539.20" fill="none" stroke="#111" stroke-width="1.7" stroke-linejoin="miter"/>
<path d="M460.80 524.10V499.30H537.30V508.30" fill="none" stroke="#111" stroke-width="1.7" stroke-linejoin="miter"/>
<path d="M499.20 536.50V522.20H537.30V526.00" fill="none" stroke="#111" stroke-width="1.7" stroke-linejoin="miter"/>
<path d="M422.90 556.50V548.80H499.20V580.80" fill="none" stroke="#111" stroke-width="1.7" stroke-linejoin="miter"/>
<path d="M422.90 617.70V571.30H460.80V581.60" fill="none" stroke="#111" stroke-width="1.7" stroke-linejoin="miter"/>
<path d="M574.80 603.20V561.20H612.90V571.20" fill="none" stroke="#111" stroke-width="1.7" stroke-linejoin="miter"/>
<text transform="translate(530.56,453.30) scale(0.961,1)" font-size="13.4" fill="#111" stroke="#111" stroke-width="0.18">ns</text>
<text transform="translate(492.06,476.50) scale(0.969,1)" font-size="13.4" fill="#111" stroke="#111" stroke-width="0.18">ns</text>
<text transform="translate(484.40,498.48) scale(0.985,1)" text-anchor="middle" font-size="15.4" font-family="'DejaVu Sans', sans-serif" fill="#111" stroke="#111" stroke-width="0.6">*</text>
<text transform="translate(494.50,498.48) scale(0.985,1)" text-anchor="middle" font-size="15.4" font-family="'DejaVu Sans', sans-serif" fill="#111" stroke="#111" stroke-width="0.6">*</text>
<text transform="translate(504.50,498.48) scale(0.985,1)" text-anchor="middle" font-size="15.4" font-family="'DejaVu Sans', sans-serif" fill="#111" stroke="#111" stroke-width="0.6">*</text>
<text transform="translate(514.60,498.48) scale(0.985,1)" text-anchor="middle" font-size="15.4" font-family="'DejaVu Sans', sans-serif" fill="#111" stroke="#111" stroke-width="0.6">*</text>
<text transform="translate(503.00,520.88) scale(0.985,1)" text-anchor="middle" font-size="15.4" font-family="'DejaVu Sans', sans-serif" fill="#111" stroke="#111" stroke-width="0.6">*</text>
<text transform="translate(513.10,520.88) scale(0.985,1)" text-anchor="middle" font-size="15.4" font-family="'DejaVu Sans', sans-serif" fill="#111" stroke="#111" stroke-width="0.6">*</text>
<text transform="translate(523.20,520.88) scale(0.985,1)" text-anchor="middle" font-size="15.4" font-family="'DejaVu Sans', sans-serif" fill="#111" stroke="#111" stroke-width="0.6">*</text>
<text transform="translate(533.40,520.88) scale(0.985,1)" text-anchor="middle" font-size="15.4" font-family="'DejaVu Sans', sans-serif" fill="#111" stroke="#111" stroke-width="0.6">*</text>
<text transform="translate(456.10,546.38) scale(0.985,1)" text-anchor="middle" font-size="15.4" font-family="'DejaVu Sans', sans-serif" fill="#111" stroke="#111" stroke-width="0.6">*</text>
<text transform="translate(465.90,546.38) scale(0.985,1)" text-anchor="middle" font-size="15.4" font-family="'DejaVu Sans', sans-serif" fill="#111" stroke="#111" stroke-width="0.6">*</text>
<text transform="translate(436.50,568.98) scale(0.985,1)" text-anchor="middle" font-size="15.4" font-family="'DejaVu Sans', sans-serif" fill="#111" stroke="#111" stroke-width="0.6">*</text>
<text transform="translate(446.70,568.98) scale(0.985,1)" text-anchor="middle" font-size="15.4" font-family="'DejaVu Sans', sans-serif" fill="#111" stroke="#111" stroke-width="0.6">*</text>
<text transform="translate(588.70,559.58) scale(0.985,1)" text-anchor="middle" font-size="15.4" font-family="'DejaVu Sans', sans-serif" fill="#111" stroke="#111" stroke-width="0.6">*</text>
<text transform="translate(598.90,559.58) scale(0.985,1)" text-anchor="middle" font-size="15.4" font-family="'DejaVu Sans', sans-serif" fill="#111" stroke="#111" stroke-width="0.6">*</text>
<text transform="translate(368.98,687.70) scale(0.970,1)" font-size="14.4" font-style="italic" fill="#111" stroke="#111" stroke-width="0.18">DOA1</text>
<text transform="translate(416.44,686.39) scale(1.000,1)" font-size="13.2" fill="#111" stroke="#111" stroke-width="0.25">+</text>
<text transform="translate(455.39,686.83) scale(1.088,1)" font-size="14.4" fill="#111" stroke="#111" stroke-width="0.25">-</text>
<text transform="translate(491.74,686.39) scale(1.000,1)" font-size="13.2" fill="#111" stroke="#111" stroke-width="0.25">+</text>
<text transform="translate(531.29,686.83) scale(1.088,1)" font-size="14.4" fill="#111" stroke="#111" stroke-width="0.25">-</text>
<text transform="translate(567.34,686.39) scale(1.000,1)" font-size="13.2" fill="#111" stroke="#111" stroke-width="0.25">+</text>
<text transform="translate(606.09,686.83) scale(1.088,1)" font-size="14.4" fill="#111" stroke="#111" stroke-width="0.25">-</text>
<line x1="422.90" y1="692.70" x2="459.00" y2="692.70" stroke="#262626" stroke-width="1.7"/>
<line x1="500.20" y1="692.70" x2="536.00" y2="692.70" stroke="#262626" stroke-width="1.7"/>
<line x1="572.50" y1="692.70" x2="608.20" y2="692.70" stroke="#262626" stroke-width="1.7"/>
<text transform="translate(438.26,711.03) scale(1.145,1)" font-size="14.4" fill="#111" stroke="#111" stroke-width="0.25">-</text>
<text transform="translate(504.93,709.90) scale(0.983,1)" font-size="14.4" fill="#111" stroke="#111" stroke-width="0.18">ATP</text>
<text transform="translate(579.23,709.90) scale(0.968,1)" font-size="14.4" fill="#111" stroke="#111" stroke-width="0.18">Val.</text>
<text transform="translate(372.00,661.15) rotate(-90) scale(0.997,1)" font-size="14.4" fill="#111" stroke="#111" stroke-width="0.1">Released Pim1p (Fold)</text>
</svg></body></html>
